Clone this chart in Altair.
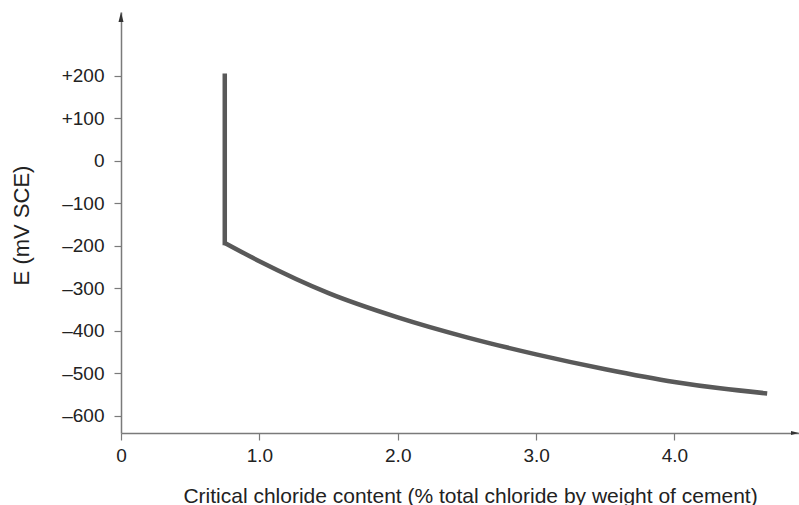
import altair as alt
import pandas as pd

# Curve
chloride = [0.75, 0.75, 1.0, 1.5, 2.0, 2.5, 3.0, 3.5, 4.0, 4.33, 4.67]
potential = [200, -193, -236, -311, -368, -415, -455, -490, -520, -535, -547]

x_ticks = [0, 1, 2, 3, 4]
y_ticks = [-600, -500, -400, -300, -200, -100, 0, 100, 200]
x_domain = [0, 4.9]
y_domain = [-640, 350]

vert = pd.DataFrame({"x": chloride[:2], "y": potential[:2]})
curve = pd.DataFrame({"x": chloride[1:], "y": potential[1:]})

FONT = "Liberation Sans"
AX = "#7a7a7a"
LINE = "#595959"

x_enc = alt.X(
    "x:Q",
    scale=alt.Scale(domain=x_domain, nice=False, zero=False),
    axis=alt.Axis(
        values=x_ticks,
        labelFlush=False,
        labelExpr="datum.value == 0 ? '0' : format(datum.value, '.1f')",
        title="Critical chloride content (% total chloride by weight of cement)",
        titleX=349,
        titleY=69,
        titleBaseline="alphabetic",
        titleAlign="center",
    ),
)
y_enc = alt.Y(
    "y:Q",
    scale=alt.Scale(domain=y_domain, nice=False, zero=False),
    axis=alt.Axis(
        values=y_ticks,
        labelExpr="datum.value > 0 ? '+' + datum.value : (datum.value < 0 ? '\u2013' + (-datum.value) : '0')",
        title="E (mV SCE)",
        titleX=-100,
        titleY=213,
        titleAngle=-90,
        titleAlign="center",
        titleBaseline="middle",
    ),
)

vline = alt.Chart(vert).mark_line(
    color=LINE, strokeWidth=4.5, strokeCap="square"
).encode(x=x_enc, y=y_enc)

cline = alt.Chart(curve).mark_line(
    color=LINE, strokeWidth=4.5, interpolate="monotone", strokeCap="butt"
).encode(x="x:Q", y="y:Q")

arrow_up = alt.Chart(pd.DataFrame({"x": [0], "y": [y_domain[1]]})).mark_point(
    shape="M0,-1L0.5,1L-0.5,1Z", filled=True, size=100, color="#333", opacity=1, yOffset=5
).encode(x="x:Q", y="y:Q")

arrow_right = alt.Chart(pd.DataFrame({"x": [x_domain[1]], "y": [y_domain[0]]})).mark_point(
    shape="M1,0L-1,0.5L-1,-0.5Z", filled=True, size=64, color="#333", opacity=1, xOffset=-4
).encode(x="x:Q", y="y:Q")

chart = (
    alt.layer(vline, cline, arrow_up, arrow_right)
    .properties(
        width=678,
        height=421,
        autosize=alt.AutoSizeParams(type="none"),
        padding={"left": 121, "top": 12, "right": 0, "bottom": 72},
    )
    .configure_view(stroke=None)
    .configure_axis(
        grid=False,
        domainColor=AX,
        domainWidth=1.5,
        tickColor=AX,
        tickWidth=1.2,
        tickSize=7,
        labelFont=FONT,
        labelFontSize=19,
        labelColor="#222",
        labelPadding=6,
        titleFont=FONT,
        titleFontSize=21,
        titleFontWeight="normal",
        titleColor="#222",
    )
    .configure_axisY(labelPadding=10, titleFontSize=22)
)

chart.save("out.html", embed_options={"renderer": "svg", "actions": False})
